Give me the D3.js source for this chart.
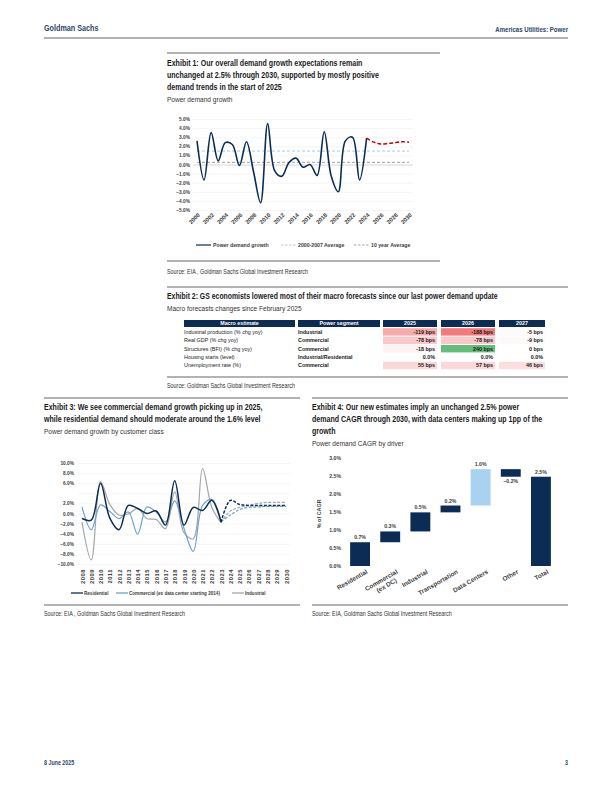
<!DOCTYPE html>
<html>
<head>
<meta charset="utf-8">
<script src="https://cdn.jsdelivr.net/npm/d3@7"></script>
<style>
  body { margin: 0; background: #fff; }
  svg { display: block; }
  text { font-family: "Liberation Sans", Arial, sans-serif; }
  .tick text { font-family: "Liberation Sans", Arial, sans-serif; font-weight: bold; fill: #404040; }
</style>
</head>
<body>
<script>
// ---- Exhibit 1: power demand growth (%)
const years1 = d3.range(2000, 2025)
const demandGrowth = [2.6, -1.7, 3.5, 0.4, 2.4, 2.2, -0.1, 2.5, -0.8, -4.2, 4.5, -0.7, -1.3, 0.2, 0.7, -0.3, 0.0, -1.2, 3.6, -1.3, -3.0, 2.6, 3.0, -1.7, 2.9]
const forecastYears1 = d3.range(2024, 2031)
const forecastGrowth = [2.9, 2.45, 2.25, 2.3, 2.4, 2.5, 2.45]
const avg2000to2007 = 1.475
const avg10Year = 0.24
const yTicks1 = [5, 4, 3, 2, 1, 0, -1, -2, -3, -4, -5]
const xTicks1 = d3.range(2000, 2031, 2)

// ---- Exhibit 2: macro forecast changes
const macroEstimates = ['Industrial production (% chg yoy)', 'Real GDP (% chg yoy)', 'Structures (BFI) (% chg yoy)', 'Housing starts (level)', 'Unemployment rate (%)']
const powerSegments = ['Industrial', 'Commercial', 'Commercial', 'Industrial/Residential', 'Commercial']
const tableYears = ['2025', '2026', '2027']
const changes2025 = ['-119 bps', '-78 bps', '-18 bps', '0.0%', '55 bps']
const changes2026 = ['-188 bps', '-78 bps', '240 bps', '0.0%', '57 bps']
const changes2027 = ['-5 bps', '-9 bps', '0 bps', '0.0%', '46 bps']

// ---- Exhibit 3: growth by customer class (%)
const years3 = d3.range(2008, 2024)
const residential = [-1.0, -1.3, 6.0, -0.9, -3.2, 1.6, 1.0, 0.0, 0.5, -2.3, 6.5, -2.3, 1.2, 0.6, 2.6, -1.7]
const commercial = [1.3, -3.2, 1.7, 0.4, -1.0, 0.3, -4.1, 1.3, 0.3, -1.7, 2.5, -3.0, -7.5, 1.6, 2.8, -1.6]
const industrial = [-1.7, -9.2, 6.3, 1.8, -0.3, -0.1, 1.0, -1.0, -1.2, -3.0, 4.3, -3.8, -5.0, 8.9, 1.2, -1.8]
const forecastYears3 = d3.range(2023, 2031)
const residentialFc = [-1.7, 2.6, 1.8, 1.6, 1.6, 1.6, 1.6, 1.6]
const commercialFc = [-1.6, -0.3, 0.8, 1.2, 1.3, 1.4, 1.4, 1.4]
const industrialFc = [-1.8, 0.5, 1.2, 1.6, 2.0, 2.2, 2.2, 2.2]
const yTicks3 = [10, 8, 6, 2, 0, -2, -4, -6, -8, -10]
const xTicks3 = d3.range(2008, 2031)

// ---- Exhibit 4: CAGR by driver (%)
const drivers = ['Residential', 'Commercial (ex DC)', 'Industrial', 'Transportation', 'Data Centers', 'Other', 'Total']
const contributions = [0.66, 0.30, 0.53, 0.19, 1.01, -0.21, 2.48]
const yTicks4 = [0, 0.5, 1, 1.5, 2, 2.5, 3]

const navy = '#0b2c55'
const ruleGrey = '#9a9a9a'

const svg = d3.select('body').append('svg').attr('width', 612).attr('height', 792)

function rule(x1, x2, y) {
  svg.append('line').attr('x1', x1).attr('x2', x2).attr('y1', y).attr('y2', y)
    .attr('stroke', ruleGrey).attr('stroke-width', 1.5)
}
// narrow = Arial squeezed to ~Arial Narrow width
function txt(x, y, s, size, opts = {}) {
  const narrow = opts.narrow !== false
  return svg.append('text')
    .attr('transform', 'translate(' + x + ',' + y + ')' + (narrow ? ' scale(0.82,1)' : ''))
    .text(s)
    .style('font-size', size + 'px')
    .style('font-weight', opts.bold ? 'bold' : 'normal')
    .attr('fill', opts.fill || '#1a1a1a')
    .attr('text-anchor', opts.anchor || 'start')
}

/* header + footer */
txt(44, 31, 'Goldman Sachs', 8.8, { bold: true, fill: '#2a4769' })
txt(568, 32, 'Americas Utilities: Power', 7.4, { bold: true, fill: '#2a4769', anchor: 'end' })
rule(44, 568, 38)
txt(44, 765, '8 June 2025', 6.5, { bold: true, fill: '#2a4769' })
txt(568, 765, '3', 6.5, { bold: true, fill: '#2a4769', anchor: 'end' })

/* ===== Exhibit 1 ===== */
rule(167, 440, 53)
txt(167, 66, 'Exhibit 1: Our overall demand growth expectations remain', 8.6, { bold: true })
txt(167, 78, 'unchanged at 2.5% through 2030, supported by mostly positive', 8.6, { bold: true })
txt(167, 90, 'demand trends in the start of 2025', 8.6, { bold: true })
txt(167, 102, 'Power demand growth', 8, { fill: '#333' })

const x1 = d3.scaleLinear().domain([2000, 2030]).range([197, 409])
const y1 = d3.scaleLinear().domain([-5, 5]).range([210, 119])
const g1 = svg.append('g')

g1.append('g')
  .attr('transform', 'translate(193,0)')
  .call(d3.axisLeft(y1).tickValues(yTicks1).tickSize(-220).tickFormat(d => d3.format('.1f')(d) + '%'))
  .call(g => g.select('.domain').remove())
  .call(g => g.selectAll('.tick line').attr('stroke', d => d === 0 ? '#bdbdbd' : '#eeeeee').attr('stroke-width', 0.6))
  .call(g => g.selectAll('.tick text').attr('x', -3).style('font-size', '4.8px'))

g1.append('g')
  .attr('transform', 'translate(0,214)')
  .call(d3.axisBottom(x1).tickValues(xTicks1).tickSize(0).tickFormat(d3.format('d')))
  .call(g => g.select('.domain').remove())
  .call(g => g.selectAll('.tick text')
    .attr('text-anchor', 'end').attr('dy', 0).attr('y', 3).attr('x', 1)
    .attr('transform', 'rotate(-45)')
    .style('font-size', '5.8px'))

g1.append('line').attr('x1', x1(2000)).attr('x2', x1(2030))
  .attr('y1', y1(avg2000to2007)).attr('y2', y1(avg2000to2007))
  .attr('stroke', '#a9cbe9').attr('stroke-width', 1).attr('stroke-dasharray', '3 2')
g1.append('line').attr('x1', x1(2000)).attr('x2', x1(2030))
  .attr('y1', y1(avg10Year)).attr('y2', y1(avg10Year))
  .attr('stroke', '#a0a0a0').attr('stroke-width', 1).attr('stroke-dasharray', '3 2')

const line1 = d3.line().x(d => x1(d[0])).y(d => y1(d[1])).curve(d3.curveCatmullRom.alpha(0.5))
g1.append('path').datum(d3.zip(years1, demandGrowth)).attr('d', line1)
  .attr('fill', 'none').attr('stroke', navy).attr('stroke-width', 1.6)
g1.append('path').datum(d3.zip(forecastYears1, forecastGrowth)).attr('d', line1)
  .attr('fill', 'none').attr('stroke', '#c00000').attr('stroke-width', 1.4).attr('stroke-dasharray', '4 2')

// legend
const leg1 = [
  { label: 'Power demand growth', x: 196, color: navy, dash: null },
  { label: '2000-2007 Average', x: 281, color: '#a9cbe9', dash: '2.5 1.5' },
  { label: '10 year Average', x: 354, color: '#a6a6a6', dash: '2.5 1.5' }
]
leg1.forEach(l => {
  svg.append('line').attr('x1', l.x).attr('x2', l.x + 15).attr('y1', 245).attr('y2', 245)
    .attr('stroke', l.color).attr('stroke-width', 1.2).attr('stroke-dasharray', l.dash)
  txt(l.x + 17, 247, l.label, 5.2, { narrow: false, bold: true, fill: '#404040' })
})

rule(167, 440, 261)
txt(167, 274, 'Source: EIA , Goldman Sachs Global Investment Research', 6.6, { fill: '#333' })

/* ===== Exhibit 2 ===== */
rule(167, 568, 287)
txt(167, 299, 'Exhibit 2: GS economists lowered most of their macro forecasts since our last power demand update', 8.4, { bold: true })
txt(167, 311, 'Macro forecasts changes since February 2025', 8, { fill: '#333' })

const colLeft = [184, 298, 383, 441, 499]
const colRight = [295, 380, 437, 495, 545]
const headers = ['Macro estimate', 'Power segment'].concat(tableYears)
const headerTop = 320
const rowH = 8.4
headers.forEach((h, i) => {
  svg.append('rect').attr('x', colLeft[i]).attr('y', headerTop).attr('width', colRight[i] - colLeft[i]).attr('height', 7)
    .attr('fill', navy)
  txt((colLeft[i] + colRight[i]) / 2, headerTop + 5.4, h, 5.3, { narrow: false, bold: true, fill: '#fff', anchor: 'middle' })
})

function cellFill(s, row) {
  if (s.indexOf('bps') < 0) return '#fff'
  let v = parseFloat(s)
  if (row === 4) v = -v
  if (v < 0) return d3.interpolateRgb('#ffffff', '#f27a7a')(Math.min(1, -v / 188))
  return d3.interpolateRgb('#ffffff', '#63be7b')(Math.min(1, v / 240))
}

const yearCols = [changes2025, changes2026, changes2027]
macroEstimates.forEach((m, r) => {
  const top = headerTop + 8.2 + r * rowH
  txt(184, top + 5.6, m, 5.4, { narrow: false, fill: '#1a1a1a' })
  txt(298, top + 5.6, powerSegments[r], 5.4, { narrow: false, bold: true, fill: '#1a1a1a' })
  yearCols.forEach((col, c) => {
    svg.append('rect').attr('x', colLeft[c + 2]).attr('y', top).attr('width', colRight[c + 2] - colLeft[c + 2]).attr('height', rowH - 1)
      .attr('fill', cellFill(col[r], r))
    txt(colRight[c + 2] - 2, top + 5.6, col[r], 5.4, { narrow: false, bold: true, fill: '#1a1a1a', anchor: 'end' })
  })
})

rule(167, 568, 377)
txt(167, 388, 'Source: Goldman Sachs Global Investment Research', 6.6, { fill: '#333' })

/* ===== Exhibit 3 ===== */
rule(44, 300, 398)
txt(44, 410, 'Exhibit 3: We see commercial demand growth picking up in 2025,', 8.6, { bold: true })
txt(44, 422, 'while residential demand should moderate around the 1.6% level', 8.6, { bold: true })
txt(44, 434, 'Power demand growth by customer class', 8, { fill: '#333' })

const x3 = d3.scaleLinear().domain([2008, 2030]).range([82, 286])
const y3 = d3.scaleLinear().domain([-10, 10]).range([564, 463])
const g3 = svg.append('g')

g3.append('g')
  .attr('transform', 'translate(78,0)')
  .call(d3.axisLeft(y3).tickValues(d3.range(-10, 11, 2)).tickSize(-212)
    .tickFormat(d => yTicks3.includes(d) ? d3.format('.1f')(d) + '%' : ''))
  .call(g => g.select('.domain').remove())
  .call(g => g.selectAll('.tick line').attr('stroke', '#eeeeee').attr('stroke-width', 0.6))
  .call(g => g.selectAll('.tick text').attr('x', -4).style('font-size', '4.8px'))

g3.append('g')
  .attr('transform', 'translate(0,568)')
  .call(d3.axisBottom(x3).tickValues(xTicks3).tickSize(0).tickFormat(d3.format('d')))
  .call(g => g.select('.domain').remove())
  .call(g => g.selectAll('.tick text')
    .attr('text-anchor', 'end').attr('dy', '0.35em').attr('y', 0).attr('x', -1)
    .attr('transform', 'rotate(-90)')
    .style('font-size', '5.8px').style('letter-spacing', '0.5px'))

const line3 = d3.line().x(d => x3(d[0])).y(d => y3(d[1])).curve(d3.curveCatmullRom.alpha(0.5))
const series3 = [
  { label: 'Residential', color: navy, hist: residential, fc: residentialFc, w: 1.5 },
  { label: 'Commercial (ex data center starting 2014)', color: '#6f9fcf', hist: commercial, fc: commercialFc, w: 1.2 },
  { label: 'Industrial', color: '#a6a6a6', hist: industrial, fc: industrialFc, w: 1.2 }
]
series3.slice().reverse().forEach(s => {
  g3.append('path').datum(d3.zip(years3, s.hist)).attr('d', line3)
    .attr('fill', 'none').attr('stroke', s.color).attr('stroke-width', s.w)
  g3.append('path').datum(d3.zip(forecastYears3, s.fc)).attr('d', line3)
    .attr('fill', 'none').attr('stroke', s.color).attr('stroke-width', s.w).attr('stroke-dasharray', '3 1.5')
})

const legX3 = [71, 116, 232]
series3.forEach((s, i) => {
  svg.append('line').attr('x1', legX3[i]).attr('x2', legX3[i] + 12).attr('y1', 593).attr('y2', 593)
    .attr('stroke', s.color).attr('stroke-width', 1.3)
  txt(legX3[i] + 13, 595, s.label, 5.6, { bold: true, fill: '#404040' })
})

rule(44, 300, 605)
txt(44, 616, 'Source: EIA , Goldman Sachs Global Investment Research', 6.6, { fill: '#333' })

/* ===== Exhibit 4 ===== */
rule(312, 568, 398)
txt(312, 410, 'Exhibit 4: Our new estimates imply an unchanged 2.5% power', 8.6, { bold: true })
txt(312, 422, 'demand CAGR through 2030, with data centers making up 1pp of the', 8.6, { bold: true })
txt(312, 434, 'growth', 8.6, { bold: true })
txt(312, 446, 'Power demand CAGR by driver', 8, { fill: '#333' })

const x4 = d3.scaleBand().domain(drivers).range([345, 556]).paddingInner(0.34).paddingOuter(0.17)
const y4 = d3.scaleLinear().domain([0, 3]).range([566, 458])
const g4 = svg.append('g')

g4.append('g')
  .attr('transform', 'translate(344,0)')
  .call(d3.axisLeft(y4).tickValues(yTicks4).tickSize(0).tickFormat(d => d3.format('.1f')(d) + '%'))
  .call(g => g.select('.domain').remove())
  .call(g => g.selectAll('.tick text').attr('x', -3).style('font-size', '5.2px'))

svg.append('text').attr('transform', 'translate(321,' + y4(1.45) + ') rotate(-90)')
  .attr('text-anchor', 'middle').style('font-size', '5.4px').style('font-weight', 'bold')
  .attr('fill', '#404040').text('% of CAGR')

// waterfall: running start/end for each driver
let running = 0
const steps = drivers.map((d, i) => {
  const isTotal = i === drivers.length - 1
  const start = isTotal ? 0 : running
  const end = isTotal ? contributions[i] : running + contributions[i]
  if (!isTotal) running = end
  return { name: d, value: contributions[i], start, end }
})

g4.selectAll('rect.bar').data(steps).enter().append('rect')
  .attr('class', 'bar')
  .attr('x', d => x4(d.name))
  .attr('width', x4.bandwidth())
  .attr('y', d => y4(Math.max(d.start, d.end)))
  .attr('height', d => Math.abs(y4(d.start) - y4(d.end)))
  .attr('fill', d => d.name === 'Data Centers' ? '#a9d2f0' : navy)

g4.selectAll('text.val').data(steps).enter().append('text')
  .attr('class', 'val')
  .attr('x', d => x4(d.name) + x4.bandwidth() / 2)
  .attr('y', d => d.value < 0 ? y4(d.end) + 6.5 : y4(d.end) - 3)
  .attr('text-anchor', 'middle')
  .style('font-size', '5.2px').style('font-weight', 'bold').attr('fill', '#404040')
  .text(d => d3.format('.1f')(d.value) + '%')

// rotated category labels
g4.selectAll('text.cat').data(drivers).enter().append('text')
  .attr('class', 'cat')
  .attr('transform', d => 'translate(' + (x4(d) + x4.bandwidth() / 2 + 8) + ',573) rotate(-30)')
  .attr('text-anchor', 'end')
  .style('font-size', '6.4px').style('font-weight', 'bold').attr('fill', '#404040')
  .each(function (d) {
    const parts = d === 'Commercial (ex DC)' ? ['Commercial', '(ex DC)'] : [d]
    const t = d3.select(this)
    parts.forEach((p, k) => t.append('tspan').attr('x', k ? -5 : 0).attr('dy', k ? 7 : 0).text(p))
  })

rule(312, 568, 605)
txt(312, 616, 'Source: EIA, Goldman Sachs Global Investment Research', 6.6, { fill: '#333' })
</script>
</body>
</html>
